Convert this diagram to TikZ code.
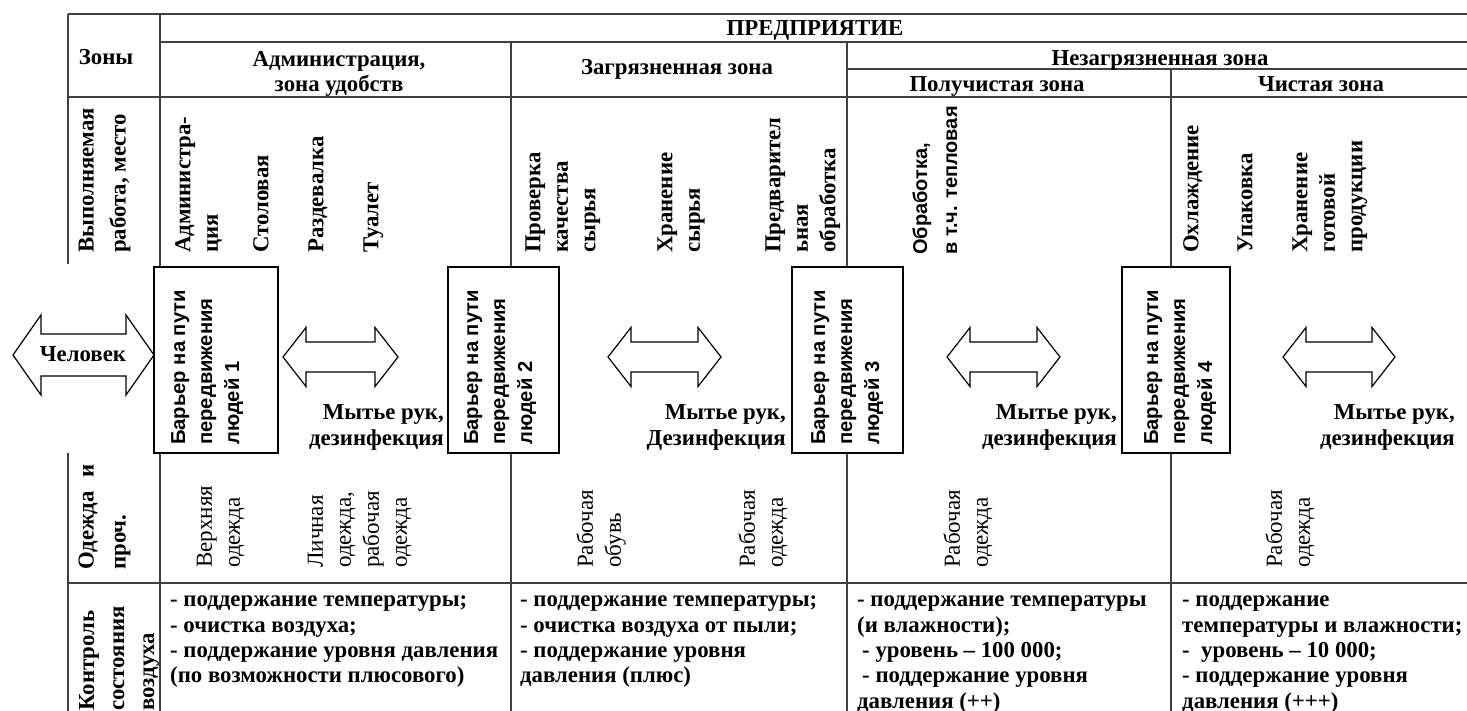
\documentclass[tikz,border=0pt]{standalone}
\usepackage{fontspec}
\setmainfont{Liberation Serif}
\newfontfamily\arialf{Liberation Sans}
\newcommand\dblarrow[6]{% x1 x2 cy headlen headhalf shafthalf
  \draw[blockarrow] (#1,#3) -- (#1+#4,#3-#5) -- (#1+#4,#3-#6) -- (#2-#4,#3-#6) -- (#2-#4,#3-#5) -- (#2,#3)
    -- (#2-#4,#3+#5) -- (#2-#4,#3+#6) -- (#1+#4,#3+#6) -- (#1+#4,#3+#5) -- cycle;}
\begin{document}
\begin{tikzpicture}[x=1pt,y=-1pt,
  gridline/.style={line width=1.5pt, black!75},
  blockarrow/.style={draw=black, line width=1.2pt, fill=white, line join=miter},
  barbox/.style={draw=black, line width=1.3pt, fill=white, inner sep=0pt},
  hdr/.style={inner sep=0pt, anchor=base, align=center, font=\fontsize{22.8}{24.5}\selectfont\bfseries},
  worktxt/.style={rotate=90, anchor=north west, align=left, inner sep=0pt, font=\fontsize{22.8}{27.5}\selectfont\bfseries},
  rowlbl/.style={rotate=90, anchor=north west, align=left, inner sep=0pt, font=\fontsize{22.8}{32}\selectfont\bfseries},
  bartxt/.style={rotate=90, anchor=north west, align=left, inner sep=0pt, font=\arialf\fontsize{20.2}{27}\selectfont\bfseries},
  clothtxt/.style={rotate=90, anchor=north west, align=left, inner sep=0pt, font=\fontsize{23}{28}\selectfont},
  washtxt/.style={anchor=north east, align=right, inner sep=0pt, font=\fontsize{22.8}{26}\selectfont\bfseries},
  airtxt/.style={anchor=north west, align=left, inner sep=0pt, font=\fontsize{22.8}{25.3}\selectfont\bfseries}]
\useasboundingbox (0,0) rectangle (1467,711);
% grid
\draw[gridline] (68,14) -- (1467,14);
\draw[gridline] (160,42) -- (1467,42);
\draw[gridline] (847,69) -- (1467,69);
\draw[gridline] (68,97) -- (1467,97);
\draw[gridline] (68,583) -- (1467,583);
\draw[gridline] (68,14) -- (68,264);
\draw[gridline] (68,453) -- (68,711);
\draw[gridline] (160,14) -- (160,711);
\draw[gridline] (511,42) -- (511,711);
\draw[gridline] (847,42) -- (847,711);
\draw[gridline] (1171,69) -- (1171,711);
% headers
\node[hdr] (ent) at (815,36) {ПРЕДПРИЯТИЕ};
\node[hdr] (zones) at (106,65) {Зоны};
\node[hdr, anchor=center] (adm) at (339,74) {Администрация,\\зона удобств};
\node[hdr] (dirty) at (677,75) {Загрязненная зона};
\node[hdr] (nondirty) at (1160,66) {Незагрязненная зона};
\node[hdr] (semi) at (997,92) {Получистая зона};
\node[hdr] (clean) at (1321,92) {Чистая зона};
% row labels
\node[rowlbl] (lblwork) at (71,253) {\strut Выполняемая\\работа, место};
\node[rowlbl] (lblcloth) at (71,570) {\strut\makebox[105pt][l]{Одежда\hfill и}\\проч.};
\node[rowlbl, font=\fontsize{22.8}{30}\selectfont\bfseries] (lblair) at (73,711) {\strut Контроль\\состояния\\воздуха};
% work items
\node[worktxt] (w1) at (171,253) {\strut Администра-\\ция};
\node[worktxt] (w2) at (249,253) {\strut Столовая};
\node[worktxt] (w3) at (304,253) {\strut Раздевалка};
\node[worktxt] (w4) at (359,253) {\strut Туалет};
\node[worktxt] (w5) at (521,253) {\strut Проверка\\качества\\сырья};
\node[worktxt] (w6) at (653,253) {\strut Хранение\\сырья};
\node[worktxt] (w7) at (761,253) {\strut Предварител\\ьная\\обработка};
\node[worktxt, font=\arialf\fontsize{20}{30}\selectfont\bfseries] (w8) at (906,255) {\strut Обработка,\\в т.ч. тепловая};
\node[worktxt] (w9) at (1179,253) {\strut Охлаждение};
\node[worktxt] (w10) at (1233,253) {\strut Упаковка};
\node[worktxt] (w11) at (1288,253) {\strut Хранение\\готовой\\продукции};
% arrows
\dblarrow{13}{154}{355}{28}{40}{21}
\dblarrow{283}{398}{357}{23}{29.5}{15}
\dblarrow{608}{721}{357}{23}{29.5}{15}
\dblarrow{947}{1060}{357}{23}{29.5}{15}
\dblarrow{1283}{1395}{357}{23}{29.5}{15}
\node[hdr, anchor=center] (human) at (83,354) {Человек};
% barriers
\node[barbox, minimum width=124pt, minimum height=186pt] (bar1) at (216,360) {};
\node[barbox, minimum width=111pt, minimum height=186pt] (bar2) at (503.5,360) {};
\node[barbox, minimum width=111pt, minimum height=186pt] (bar3) at (847.5,360) {};
\node[barbox, minimum width=108pt, minimum height=186pt] (bar4) at (1176,360) {};
\node[bartxt] (bt1) at (166,445) {\strut Барьер на пути\\передвижения\\людей 1};
\node[bartxt] (bt2) at (459,445) {\strut Барьер на пути\\передвижения\\людей 2};
\node[bartxt] (bt3) at (806,445) {\strut Барьер на пути\\передвижения\\людей 3};
\node[bartxt] (bt4) at (1139,445) {\strut Барьер на пути\\передвижения\\людей 4};
% washing
\node[washtxt] (wash1) at (444,401) {\strut Мытье рук,\\дезинфекция};
\node[washtxt] (wash2) at (786,401) {\strut Мытье рук,\\Дезинфекция};
\node[washtxt] (wash3) at (1117,401) {\strut Мытье рук,\\дезинфекция};
\node[washtxt] (wash4) at (1455,401) {\strut Мытье рук,\\дезинфекция};
% clothing
\node[clothtxt] (c1) at (192,568) {\strut Верхняя\\одежда};
\node[clothtxt] (c2) at (303,568) {\strut Личная\\одежда,\\рабочая\\одежда};
\node[clothtxt] (c3) at (573,568) {\strut Рабочая\\обувь};
\node[clothtxt] (c4) at (735,568) {\strut Рабочая\\одежда};
\node[clothtxt] (c5) at (940,568) {\strut Рабочая\\одежда};
\node[clothtxt] (c6) at (1262,568) {\strut Рабочая\\одежда};
% air control
\node[airtxt] (a1) at (170,589) {\strut - поддержание температуры;\\- очистка воздуха;\\- поддержание уровня давления\\(по возможности плюсового)};
\node[airtxt] (a2) at (520,589) {\strut - поддержание температуры;\\- очистка воздуха от пыли;\\- поддержание уровня\\давления (плюс)};
\node[airtxt] (a3) at (857,589) {\strut - поддержание температуры\\(и влажности);\\\hspace*{5pt}- уровень – 100~000;\\\hspace*{5pt}- поддержание уровня\\давления (++)};
\node[airtxt] (a4) at (1182,589) {\strut - поддержание\\температуры и влажности;\\-\ \ уровень – 10~000;\\- поддержание уровня\\давления (+++)};
\end{tikzpicture}
\end{document}
